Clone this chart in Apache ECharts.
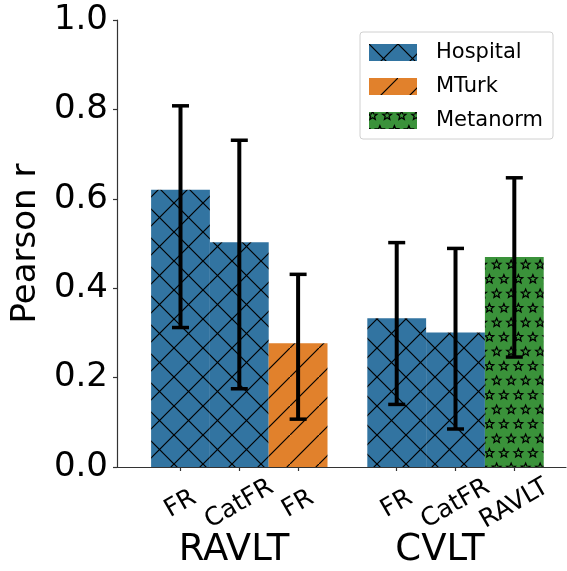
<!DOCTYPE html>
<html>
<head>
<meta charset="utf-8">
<script src="https://cdn.jsdelivr.net/npm/echarts@6/dist/echarts.min.js"></script>
<style>
  html, body { margin: 0; padding: 0; background: #fff; }
  #main { width: 567px; height: 571px; }
</style>
</head>
<body>
<div id="main"></div>
<script>
// data
const groups = ['RAVLT', 'CVLT'];
const tickLabels = ['FR', 'CatFR', 'FR', 'FR', 'CatFR', 'RAVLT'];
const groupOf = [0, 0, 0, 1, 1, 1];
const sources = ['Hospital', 'Hospital', 'MTurk', 'Hospital', 'Hospital', 'Metanorm'];
const values = [0.62, 0.503, 0.277, 0.333, 0.301, 0.47];
const ciLow = [0.312, 0.175, 0.107, 0.14, 0.085, 0.246];
const ciHigh = [0.808, 0.731, 0.431, 0.502, 0.489, 0.647];
const legendNames = ['Hospital', 'MTurk', 'Metanorm'];

const colors = { Hospital: '#3274A1', MTurk: '#E1812C', Metanorm: '#3A923A' };
const FONT = 'DejaVu Sans';
const GROUP_SHIFT = 0.677; // extra space between the two groups, in bar widths
const TILE = 29;

// bar position on the x axis (one unit = one bar width)
const xPos = tickLabels.map((_, i) => i + groupOf[i] * GROUP_SHIFT);

// hatch patterns
function makeTile(bg, draw) {
  const c = document.createElement('canvas');
  c.width = TILE; c.height = TILE;
  const ctx = c.getContext('2d');
  ctx.fillStyle = bg;
  ctx.fillRect(0, 0, TILE, TILE);
  ctx.strokeStyle = '#000';
  ctx.lineWidth = 1.2;
  draw(ctx);
  return c;
}
function line(ctx, x1, y1, x2, y2) {
  ctx.beginPath(); ctx.moveTo(x1, y1); ctx.lineTo(x2, y2); ctx.stroke();
}
function star(ctx, cx, cy, R, r) {
  ctx.beginPath();
  for (let k = 0; k < 10; k++) {
    const a = -Math.PI / 2 + k * Math.PI / 5;
    const rad = k % 2 ? r : R;
    const px = cx + rad * Math.cos(a), py = cy + rad * Math.sin(a);
    k ? ctx.lineTo(px, py) : ctx.moveTo(px, py);
  }
  ctx.closePath();
  ctx.stroke();
}
const crossTile = makeTile(colors.Hospital, ctx => {
  line(ctx, -2, -2, TILE + 2, TILE + 2);
  line(ctx, -2, TILE + 2, TILE + 2, -2);
});
const slashTile = makeTile(colors.MTurk, ctx => {
  line(ctx, -2, TILE + 2, TILE + 2, -2);
});
const starTile = makeTile(colors.Metanorm, ctx => {
  const h = TILE / 2, q = TILE / 4;
  const centres = [[0, 0], [h, 0], [q, h], [q + h, h]];
  centres.forEach(([x, y]) => {
    for (const dx of [-TILE, 0, TILE]) for (const dy of [-TILE, 0, TILE]) {
      star(ctx, x + dx + q / 2, y + dy + q / 2, 4.6, 2.0);
    }
  });
});
const patterns = {
  Hospital: { image: crossTile, repeat: 'repeat' },
  MTurk: { image: slashTile, repeat: 'repeat' },
  Metanorm: { image: starTile, repeat: 'repeat' }
};

const chart = echarts.init(document.getElementById('main'));

const barSeries = legendNames.map(name => ({
  name: name,
  type: 'bar',
  barWidth: 58.8,
  barGap: '-100%',
  itemStyle: { color: patterns[name] },
  emphasis: { disabled: true },
  data: values.map((v, i) => sources[i] === name ? [xPos[i], v] : null).filter(d => d)
}));

// error bars drawn as black rectangles
const errorSeries = {
  name: 'ci',
  type: 'custom',
  z: 10,
  silent: true,
  clip: false,
  data: values.map((v, i) => [xPos[i], ciLow[i], ciHigh[i]]),
  renderItem: function (params, api) {
    const lo = api.coord([api.value(0), api.value(1)]);
    const hi = api.coord([api.value(0), api.value(2)]);
    const cap = 8.5, stem = 4, capH = 3.5;
    const fill = { fill: '#000' };
    return {
      type: 'group',
      children: [
        { type: 'rect', shape: { x: lo[0] - stem / 2, y: hi[1], width: stem, height: lo[1] - hi[1] }, style: fill },
        { type: 'rect', shape: { x: lo[0] - cap, y: lo[1] - capH / 2, width: cap * 2, height: capH }, style: fill },
        { type: 'rect', shape: { x: hi[0] - cap, y: hi[1] - capH / 2, width: cap * 2, height: capH }, style: fill }
      ]
    };
  }
};

const option = {
  animation: false,
  backgroundColor: '#fff',
  grid: { left: 117, right: 1, top: 20, bottom: 104, containLabel: false },
  legend: {
    data: legendNames,
    orient: 'vertical',
    left: 360,
    top: 32,
    padding: [10, 10, 8, 9],
    itemWidth: 48,
    itemHeight: 17,
    itemGap: 13,
    icon: 'rect',
    backgroundColor: 'rgba(255,255,255,0.8)',
    borderColor: '#d0d0d0',
    borderWidth: 1,
    borderRadius: 3,
    selectedMode: false,
    textStyle: { fontFamily: FONT, fontSize: 21, color: '#000', padding: [0, 0, 0, 14] }
  },
  xAxis: {
    type: 'value',
    min: -1.08,
    max: 6.556,
    splitLine: { show: false },
    axisLine: { show: true, onZero: false, lineStyle: { color: '#333', width: 1.2 } },
    axisTick: { show: true, customValues: xPos, length: 4, lineStyle: { color: '#333', width: 1.2 } },
    axisLabel: {
      customValues: xPos,
      rotate: 30,
      align: 'center',
      verticalAlign: 'middle',
      margin: 37,
      fontFamily: FONT,
      fontSize: 25,
      color: '#000',
      formatter: function (v) {
        let best = 0;
        xPos.forEach((p, i) => { if (Math.abs(p - v) < Math.abs(xPos[best] - v)) best = i; });
        return tickLabels[best];
      }
    }
  },
  yAxis: {
    type: 'value',
    min: 0,
    max: 1,
    interval: 0.2,
    name: 'Pearson r',
    nameLocation: 'middle',
    nameGap: 67,
    nameTextStyle: { fontFamily: FONT, fontSize: 34, color: '#000' },
    splitLine: { show: false },
    axisLine: { show: true, onZero: false, lineStyle: { color: '#333', width: 1.2 } },
    axisTick: { show: true, length: 4, lineStyle: { color: '#333', width: 1.2 } },
    axisLabel: {
      margin: 9,
      fontFamily: FONT,
      fontSize: 34,
      color: '#000',
      formatter: v => v.toFixed(1)
    }
  },
  graphic: [
    { type: 'text', x: 234, y: 550, style: { text: groups[0], fontFamily: FONT, fontSize: 37, fill: '#000', align: 'center', verticalAlign: 'middle' } },
    { type: 'text', x: 440, y: 550, style: { text: groups[1], fontFamily: FONT, fontSize: 37, fill: '#000', align: 'center', verticalAlign: 'middle' } }
  ],
  series: barSeries.concat([errorSeries])
};

chart.setOption(option);
window.addEventListener('resize', () => chart.resize());
</script>
</body>
</html>
